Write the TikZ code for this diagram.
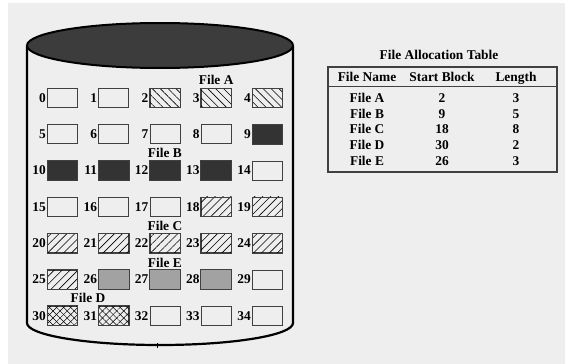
\documentclass[tikz,border=0pt]{standalone}
\usepackage{fontspec}
\setmainfont{Liberation Serif}
\usetikzlibrary{patterns.meta,calc}
\definecolor{bg}{HTML}{EEEEEE}
\definecolor{boxline}{HTML}{404040}
\definecolor{darkfill}{HTML}{333333}
\definecolor{midfill}{HTML}{A2A2A2}
\definecolor{lidfill}{HTML}{3C3C3C}
\begin{document}
\begin{tikzpicture}[x=1pt,y=-1pt,
  txt/.style={font=\bfseries\fontsize{13.4}{15}\selectfont, inner sep=0pt},
  blk/.style={draw=boxline, line width=0.8pt, fill=bg, minimum width=30pt,
    minimum height=19pt, inner sep=0pt, anchor=north west},
  boxedge/.style={draw=boxline, line width=0.8pt},
  hatchA/.style={pattern={Lines[angle=-45,distance=5.6pt,line width=0.6pt]}},
  hatchC/.style={pattern={Lines[angle=45,distance=5.6pt,line width=0.6pt]}},
  crossa/.style={pattern={Lines[angle=45,distance=5pt,line width=0.5pt]}},
  crossb/.style={pattern={Lines[angle=-45,distance=5pt,line width=0.5pt]}},
  tabline/.style={draw=boxline, line width=1.3pt}
]
\useasboundingbox (0,0) rectangle (565,364);
\fill[white] (0,0) rectangle (565,364);
\fill[bg] (8,3) rectangle (565,364);
% cylinder
\draw[line width=2.2pt] (27,45.5) -- (27,323)
  arc[start angle=180,end angle=360,x radius=133pt,y radius=22pt] -- (293,45.5);
\draw[line width=1pt] (157,343) -- (157,347.5);
\draw[line width=2pt, fill=lidfill] (160,45.5) ellipse[x radius=133pt, y radius=22.5pt];
% blocks
\foreach \i in {0,...,34} {
  \pgfmathtruncatemacro\r{int(\i/5)}
  \pgfmathtruncatemacro\c{mod(\i,5)}
  \node[blk] (b\i) at ({47+51.25*\c},{88+36.3*\r}) {};
  \node[txt, anchor=east] (n\i) at ([xshift=-1pt]b\i.west) {\i};
}
\foreach \i in {2,3,4}
  \path[hatchA] (b\i.north west) rectangle (b\i.south east);
\foreach \i in {18,...,25}
  \path[hatchC] (b\i.north west) rectangle (b\i.south east);
\foreach \i in {30,31} {
  \path[crossa] (b\i.north west) rectangle (b\i.south east);
  \path[crossb] (b\i.north west) rectangle (b\i.south east);
}
\foreach \i in {9,...,13}
  \fill[darkfill] (b\i.north west) rectangle (b\i.south east);
\foreach \i in {26,27,28}
  \fill[midfill] (b\i.north west) rectangle (b\i.south east);
\foreach \i in {2,3,4,9,10,11,12,13,18,19,20,21,22,23,24,25,26,27,28,30,31}
  \draw[boxedge] (b\i.north west) rectangle (b\i.south east);
% file labels
\node[txt] (fA) at ([yshift=8.5pt]b3.north) {File A};
\node[txt] (fB) at ([yshift=7.5pt]b12.north) {File B};
\node[txt] (fC) at ([yshift=7pt]b22.north) {File C};
\node[txt] (fE) at ([yshift=6.8pt]b27.north) {File E};
\node[txt] (fD) at ([yshift=7.8pt]$(b30.north)!0.5!(b31.north)$) {File D};
% table
\node[txt] (title) at (439,55) {File Allocation Table};
\draw[tabline] (328,67) rectangle (557,172);
\draw[tabline] (328,86.5) -- (557,86.5);
\node[txt, anchor=base] (h1) at (367,81.5) {File Name};
\node[txt, anchor=base] (h2) at (442,81.5) {Start Block};
\node[txt, anchor=base] (h3) at (516,81.5) {Length};
\foreach \n/\s/\l [count=\k from 0] in {A/2/3, B/9/5, C/18/8, D/30/2, E/26/3} {
  \node[txt, anchor=base] (r\k a) at (367,{102.7+15.6*\k}) {File \n};
  \node[txt, anchor=base] (r\k b) at (442,{102.7+15.6*\k}) {\s};
  \node[txt, anchor=base] (r\k c) at (516,{102.7+15.6*\k}) {\l};
}
\end{tikzpicture}
\end{document}
